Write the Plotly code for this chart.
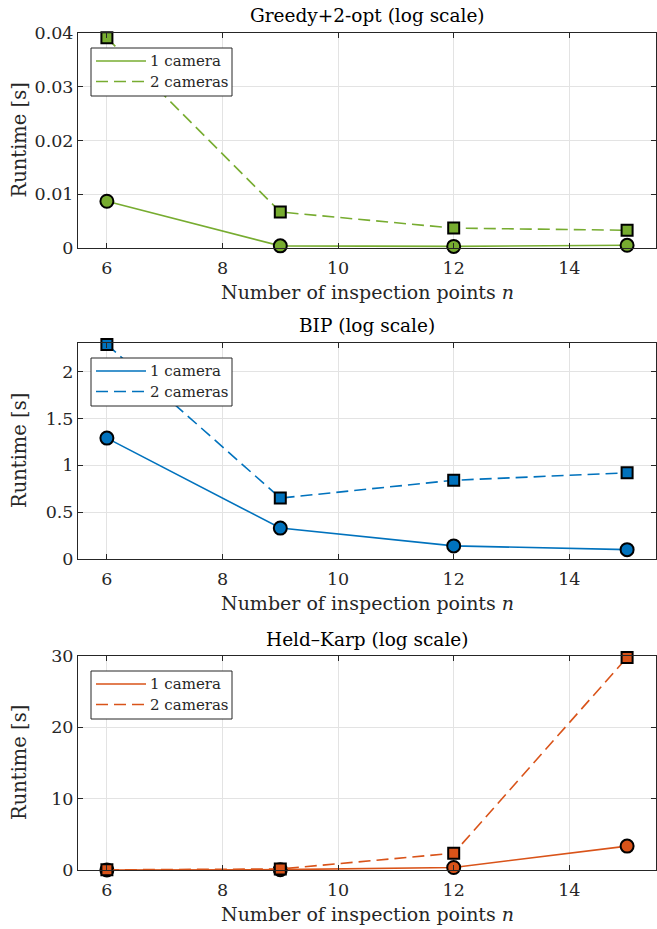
import plotly.graph_objects as go

n_points = [6, 9, 12, 15]

greedy_1cam = [0.0087, 0.0004, 0.0003, 0.0005]
greedy_2cam = [0.0391, 0.0067, 0.0037, 0.0033]

bip_1cam = [1.29, 0.33, 0.14, 0.10]
bip_2cam = [2.29, 0.65, 0.84, 0.92]

hk_1cam = [0.01, 0.05, 0.35, 3.35]
hk_2cam = [0.02, 0.15, 2.35, 29.8]

series_names = ["1 camera", "2 cameras"]
titles = ["Greedy+2-opt (log scale)", "BIP (log scale)", "Held\u2013Karp (log scale)"]
colors = ["#77AC30", "#0072BD", "#D95319"]
series = [(greedy_1cam, greedy_2cam), (bip_1cam, bip_2cam), (hk_1cam, hk_2cam)]
y_ranges = [[0, 0.04], [0, 2.305], [0, 30]]
y_ticks = [[0, 0.01, 0.02, 0.03, 0.04], [0, 0.5, 1, 1.5, 2], [0, 10, 20, 30]]
y_ticktext = [["0", "0.01", "0.02", "0.03", "0.04"], ["0", "0.5", "1", "1.5", "2"], ["0", "10", "20", "30"]]
x_ticks = [6, 8, 10, 12, 14]

W, H = 657, 929
x_left, x_right = 78, 656
tops = [33, 343, 656]
bottoms = [248, 559, 870]

FONT = "DejaVu Serif"
TXT = "#262626"
DASH = "12px,6px"
fig = go.Figure()
layout = dict(
    width=W, height=H, margin=dict(l=0, r=0, t=0, b=0, autoexpand=False),
    paper_bgcolor="white", plot_bgcolor="white",
    font=dict(family=FONT, size=16, color=TXT),
    annotations=[], shapes=[], showlegend=False,
)


def px(x):
    return x / W


def py(y):
    return 1 - y / H


for i in range(3):
    xa = "x" if i == 0 else f"x{i+1}"
    ya = "y" if i == 0 else f"y{i+1}"
    c = colors[i]
    one, two = series[i]
    fig.add_trace(go.Scatter(x=n_points, y=one, mode="lines+markers", xaxis=xa, yaxis=ya,
                             line=dict(color=c, width=1.6), cliponaxis=False, name=series_names[0],
                             marker=dict(symbol="circle", size=13, color=c, line=dict(color="black", width=2))))
    fig.add_trace(go.Scatter(x=n_points, y=two, mode="lines+markers", xaxis=xa, yaxis=ya,
                             line=dict(color=c, width=1.6, dash=DASH), cliponaxis=False, name=series_names[1],
                             marker=dict(symbol="square", size=11, color=c, line=dict(color="black", width=2))))

    ydom = [py(bottoms[i]), py(tops[i])]
    axcommon = dict(showline=True, linecolor=TXT, linewidth=1, mirror="ticks",
                    ticks="inside", ticklen=5, tickcolor=TXT, showgrid=True,
                    gridcolor="#E3E3E3", gridwidth=1, zeroline=False, automargin=False,
                    tickfont=dict(family=FONT, size=17.5, color=TXT))
    layout["xaxis" if i == 0 else f"xaxis{i+1}"] = dict(
        domain=[px(x_left), px(x_right)], range=[5.5, 15.5], tickvals=x_ticks,
        anchor=ya, ticklabelstandoff=4, **axcommon)
    layout["yaxis" if i == 0 else f"yaxis{i+1}"] = dict(
        domain=ydom, range=y_ranges[i], tickvals=y_ticks[i], ticktext=y_ticktext[i],
        anchor=xa, **axcommon)

    # legend box (drawn manually to match sample-line length)
    t = tops[i]
    layout["shapes"].append(dict(type="rect", xref="paper", yref="paper",
                                 x0=px(91), x1=px(232), y0=py(t + 63), y1=py(t + 15),
                                 fillcolor="white", line=dict(color=TXT, width=1), layer="above"))
    for k, dash in enumerate([None, DASH]):
        yy = t + 28 + 20.5 * k
        ln = dict(color=c, width=1.6)
        if dash:
            ln["dash"] = dash
        layout["shapes"].append(dict(type="line", xref="paper", yref="paper",
                                     x0=px(96), x1=px(146), y0=py(yy), y1=py(yy),
                                     line=ln, layer="above"))
        layout["annotations"].append(dict(text=series_names[k], x=px(148), y=py(yy),
                                          xref="paper", yref="paper", showarrow=False,
                                          font=dict(family=FONT, size=15, color=TXT),
                                          xanchor="left", yanchor="middle"))

    cx = px((x_left + x_right) / 2)
    layout["annotations"].append(dict(text=titles[i], x=cx, y=py(t - 17),
                                      xref="paper", yref="paper", showarrow=False,
                                      font=dict(family=FONT, size=18.5, color="black"),
                                      xanchor="center", yanchor="middle"))
    layout["annotations"].append(dict(text="Number of inspection points <i>n</i>", x=cx,
                                      y=py(bottoms[i] + 44),
                                      xref="paper", yref="paper", showarrow=False,
                                      font=dict(family=FONT, size=19, color=TXT),
                                      xanchor="center", yanchor="middle"))
    layout["annotations"].append(dict(text="Runtime [s]", x=px(19),
                                      y=py((tops[i] + bottoms[i]) / 2),
                                      xref="paper", yref="paper", showarrow=False, textangle=-90,
                                      font=dict(family=FONT, size=19.5, color=TXT),
                                      xanchor="center", yanchor="middle"))

fig.update_layout(**layout)
fig.write_html("out.html")
